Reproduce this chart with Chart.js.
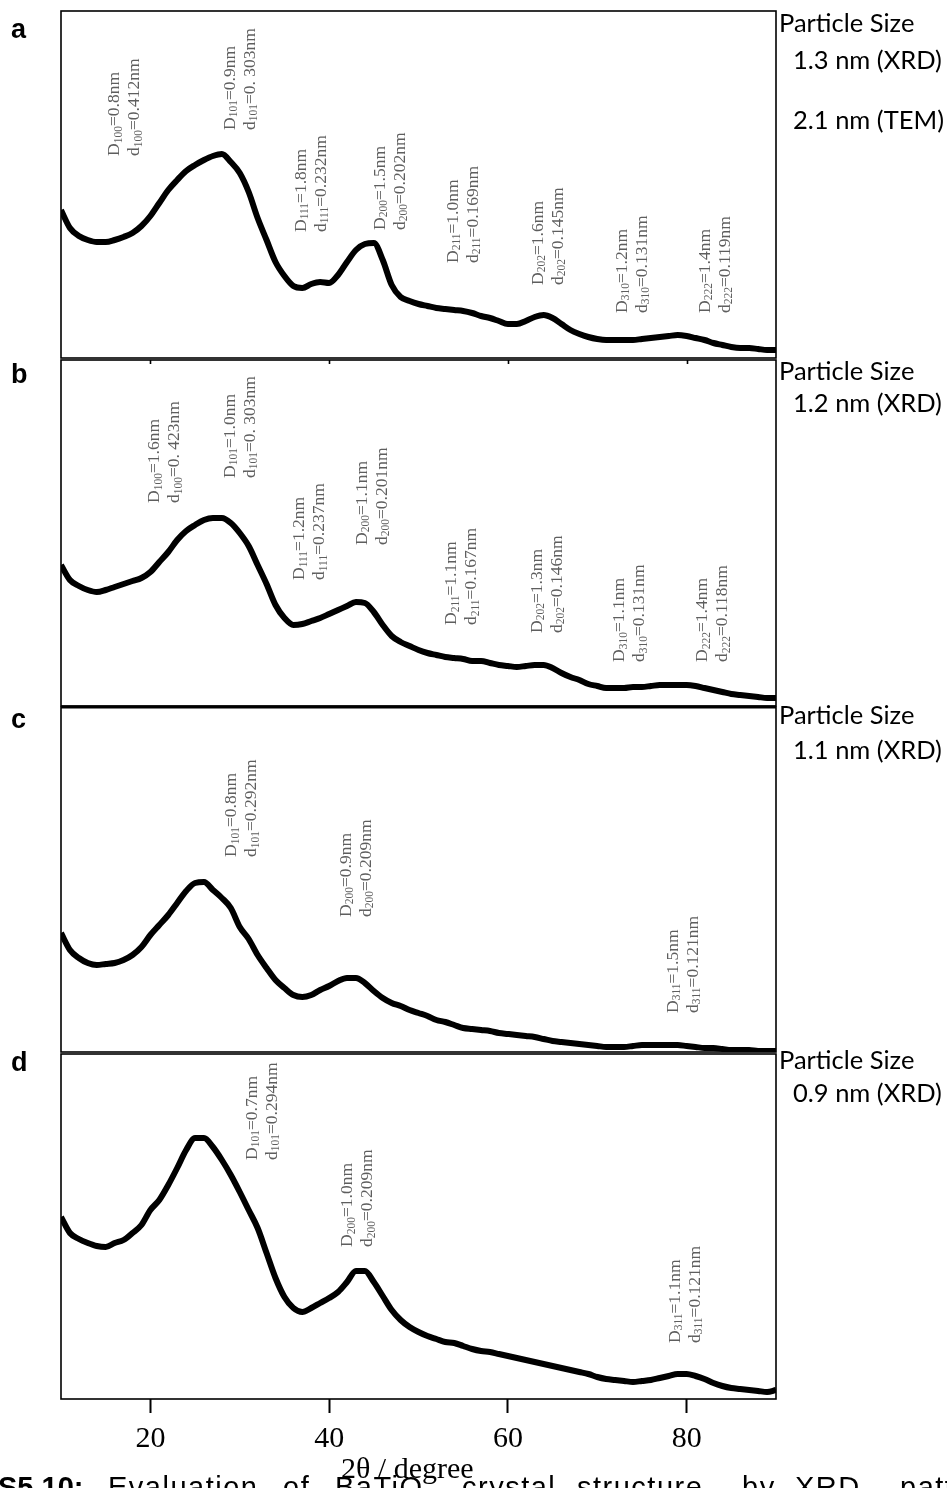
<!DOCTYPE html>
<html>
<head>
<meta charset="utf-8">
<script src="https://cdn.jsdelivr.net/npm/chart.js@4/dist/chart.umd.min.js"></script>
<style>
  html, body { margin: 0; padding: 0; background: #fff; }
  body { position: relative; width: 947px; height: 1488px; overflow: hidden; }
  canvas.panel { position: absolute; left: 0; }
  .letter { position: absolute; left: 11px; font: bold 27px "Liberation Sans", Arial, sans-serif; line-height: 27px; color: #000; }
  .size { position: absolute; font: 25.5px Lato, "Open Sans", sans-serif; line-height: 25.5px; color: #000; white-space: pre; }
  .cap { position: absolute; top: 1473px; font: 29px "Liberation Sans", Arial, sans-serif; line-height: 29px; letter-spacing: 1.5px; color: #000; white-space: pre; }
  .cap.bold { font-weight: bold; letter-spacing: 0; }
</style>
</head>
<body>

<canvas id="panelA" class="panel"></canvas>
<canvas id="panelB" class="panel"></canvas>
<canvas id="panelC" class="panel"></canvas>
<canvas id="panelD" class="panel"></canvas>

<div class="letter" style="top:16px">a</div>
<div class="letter" style="top:361px">b</div>
<div class="letter" style="top:706px">c</div>
<div class="letter" style="top:1049px">d</div>

<div class="size" style="left:779px;top:10px">Particle Size</div>
<div class="size" style="left:793px;top:47px">1.3 nm (XRD)</div>
<div class="size" style="left:793px;top:107px">2.1 nm (TEM)</div>
<div class="size" style="left:779px;top:358px">Particle Size</div>
<div class="size" style="left:793px;top:390px">1.2 nm (XRD)</div>
<div class="size" style="left:779px;top:702px">Particle Size</div>
<div class="size" style="left:793px;top:737px">1.1 nm (XRD)</div>
<div class="size" style="left:779px;top:1047px">Particle Size</div>
<div class="size" style="left:793px;top:1080px">0.9 nm (XRD)</div>

<div class="cap bold" style="left:-2px">S5.10:</div>
<div class="cap" style="left:108px">Evaluation</div>
<div class="cap" style="left:283px">of</div>
<div class="cap" style="left:335px">BaTiO<sub style="font-size:18px">3</sub></div>
<div class="cap" style="left:462px">crystal</div>
<div class="cap" style="left:577px">structure</div>
<div class="cap" style="left:742px">by</div>
<div class="cap" style="left:795px">XRD</div>
<div class="cap" style="left:900px">patterns</div>

<script>
// 2θ positions (degrees) of the sampled diffraction intensities
const twoTheta = [10, 11, 12, 13, 14, 15, 16, 17, 18, 19, 20, 21, 22, 23, 24, 25, 26, 27, 28, 29,
  30, 31, 32, 33, 34, 35, 36, 37, 38, 39, 40, 41, 42, 43, 44, 45, 46, 47, 48, 49,
  50, 51, 52, 53, 54, 55, 56, 57, 58, 59, 60, 61, 62, 63, 64, 65, 66, 67, 68, 69,
  70, 71, 72, 73, 74, 75, 76, 77, 78, 79, 80, 81, 82, 83, 84, 85, 86, 87, 88, 89, 90];

// Intensity (a.u.) for each sample
const intensityA = [148, 130, 122, 118, 116, 116, 118, 121, 125, 132, 142, 155, 168, 178, 187, 193, 198, 202, 204, 196,
  185, 166, 140, 118, 96, 82, 72, 70, 74, 76, 75, 83, 96, 108, 114, 115, 98, 73, 61, 57,
  54, 52, 50, 49, 48, 47, 45, 42, 40, 37, 34, 34, 37, 41, 43, 40, 34, 28, 24, 21,
  19, 18, 18, 18, 18, 19, 20, 21, 22, 23, 22, 20, 18, 15, 13, 11, 10, 10, 9, 8, 8];

const intensityB = [141, 126, 120, 116, 114, 116, 119, 122, 125, 128, 134, 144, 154, 166, 175, 181, 186, 188, 188, 183,
  173, 160, 141, 122, 101, 88, 81, 82, 85, 88, 92, 96, 100, 104, 103, 94, 81, 70, 64, 60,
  56, 53, 51, 49, 48, 47, 45, 45, 43, 41, 40, 39, 40, 41, 41, 38, 33, 29, 26, 22,
  20, 18, 18, 18, 19, 19, 20, 21, 21, 21, 21, 20, 18, 16, 14, 12, 11, 10, 9, 8, 8];

const intensityC = [119, 102, 94, 89, 87, 88, 89, 92, 97, 105, 117, 127, 137, 149, 161, 169, 170, 162, 154, 144,
  125, 113, 97, 84, 72, 64, 57, 55, 57, 62, 66, 71, 74, 74, 69, 61, 54, 49, 46, 42,
  39, 36, 32, 30, 27, 24, 23, 22, 21, 19, 18, 17, 16, 15, 13, 11, 10, 9, 8, 7,
  6, 5, 5, 5, 6, 7, 7, 7, 7, 7, 6, 5, 4, 4, 3, 2, 2, 2, 1, 1, 1];

const intensityD = [182, 166, 160, 156, 153, 152, 156, 159, 166, 174, 189, 199, 214, 231, 249, 261, 261, 252, 239, 224,
  207, 189, 171, 146, 121, 102, 91, 87, 91, 96, 101, 107, 117, 128, 128, 117, 103, 89, 79, 72,
  67, 63, 60, 57, 56, 53, 50, 48, 47, 45, 43, 41, 39, 37, 35, 33, 31, 29, 27, 25,
  22, 20, 19, 18, 17, 18, 19, 21, 23, 25, 25, 23, 20, 16, 13, 11, 10, 9, 8, 7, 9];

// 2θ tick labels on the shared bottom axis
const xTickValues = [20, 40, 60, 80];

// Reflections: Miller indices, crystallite size D (nm), d-spacing (nm)
const peaksA = [
  ['100', '0.8', '0.412'], ['101', '0.9', '0. 303'], ['111', '1.8', '0.232'], ['200', '1.5', '0.202'],
  ['211', '1.0', '0.169'], ['202', '1.6', '0.145'], ['310', '1.2', '0.131'], ['222', '1.4', '0.119']
];
const peaksB = [
  ['100', '1.6', '0. 423'], ['101', '1.0', '0. 303'], ['111', '1.2', '0.237'], ['200', '1.1', '0.201'],
  ['211', '1.1', '0.167'], ['202', '1.3', '0.146'], ['310', '1.1', '0.131'], ['222', '1.4', '0.118']
];
const peaksC = [['101', '0.8', '0.292'], ['200', '0.9', '0.209'], ['311', '1.5', '0.121']];
const peaksD = [['101', '0.7', '0.294'], ['200', '1.0', '0.209'], ['311', '1.1', '0.121']];

// Where each reflection note starts, as [2θ, intensity] in the panel's own axes
const noteAnchorsA = [[16.0, 202], [28.9, 228], [36.9, 126], [45.7, 128], [53.9, 95], [63.4, 73], [72.8, 45], [82.1, 45]];
const noteAnchorsB = [[20.5, 203], [28.9, 228], [36.7, 126], [43.7, 161], [53.7, 81], [63.3, 73], [72.5, 44], [81.8, 44]];
const noteAnchorsC = [[29.1, 195], [41.9, 135], [78.5, 39]];
const noteAnchorsD = [[31.4, 239], [42.1, 152], [78.7, 56]];

const SERIF = '"Liberation Serif", "Times New Roman", serif';

// Box around each plot area, plus optional short inner ticks on the top edge
const framePlugin = {
  id: 'panelFrame',
  afterDatasetsDraw(chart, args, opts) {
    const { ctx, chartArea: a, scales } = chart;
    ctx.save();
    ctx.strokeStyle = '#000';
    ctx.lineWidth = 1.6;
    ctx.strokeRect(a.left, a.top, a.right - a.left, a.bottom - a.top);
    if (opts.topWidth) {
      ctx.lineWidth = opts.topWidth;
      ctx.beginPath();
      ctx.moveTo(a.left, a.top);
      ctx.lineTo(a.right, a.top);
      ctx.stroke();
    }
    if (opts.topTicks) {
      ctx.lineWidth = 1.6;
      ctx.beginPath();
      for (const v of xTickValues) {
        const px = Math.round(scales.x.getPixelForValue(v)) + 0.5;
        ctx.moveTo(px, a.top);
        ctx.lineTo(px, a.top + 4);
      }
      ctx.stroke();
    }
    ctx.restore();
  }
};

// Vertical two-line notes "D_hkl=..nm / d_hkl=..nm" placed at data coordinates
const notePlugin = {
  id: 'peakNotes',
  afterDatasetsDraw(chart, args, opts) {
    const { ctx, scales } = chart;
    const mainFont = '17.5px ' + SERIF;
    const subFont = '11.5px ' + SERIF;
    const drawLine = (parts) => {
      let u = 0;
      for (const [text, sub] of parts) {
        ctx.font = sub ? subFont : mainFont;
        ctx.fillText(text, u, sub ? 4 : 0);
        u += ctx.measureText(text).width;
      }
    };
    ctx.save();
    ctx.fillStyle = '#5e5e5e';
    ctx.textBaseline = 'middle';
    ctx.textAlign = 'left';
    opts.peaks.forEach((p, i) => {
      const [hkl, size, spacing] = p;
      const [tx, ty] = opts.anchors[i];
      const px = scales.x.getPixelForValue(tx);
      const py = scales.y.getPixelForValue(ty);
      ctx.save();
      ctx.translate(px, py);
      ctx.rotate(-Math.PI / 2);
      drawLine([['D', false], [hkl, true], ['=' + size + 'nm', false]]);
      ctx.translate(0, 20);
      drawLine([['d', false], [hkl, true], ['=' + spacing + 'nm', false]]);
      ctx.restore();
    });
    ctx.restore();
  }
};

function makePanel(id, top, plotHeight, values, peaks, anchors, extra) {
  const withAxis = !!extra.axis;
  const pad = 6;
  const axisHeight = 89;
  const canvas = document.getElementById(id);
  const h = withAxis ? pad + plotHeight + axisHeight : plotHeight + 2 * pad;
  canvas.width = 947;
  canvas.height = h;
  canvas.style.top = (top - pad) + 'px';
  canvas.style.width = '947px';
  canvas.style.height = h + 'px';

  const xScale = {
    type: 'linear', min: 10, max: 90, display: withAxis, position: 'bottom',
    afterBuildTicks: (s) => { s.ticks = xTickValues.map(v => ({ value: v })); },
    grid: { drawOnChartArea: false, drawTicks: true, tickLength: 14, tickWidth: 2, tickColor: '#000' },
    border: { display: false },
    ticks: { color: '#000', font: { family: SERIF, size: 30 }, padding: 8, maxRotation: 0, autoSkip: false },
    title: { display: true, text: '2θ / degree   ', color: '#000', font: { family: SERIF, size: 30 }, padding: 0 }
  };
  if (withAxis) xScale.afterFit = (s) => { s.height = axisHeight; };

  return new Chart(canvas, {
    type: 'line',
    data: {
      datasets: [{
        data: twoTheta.map((x, i) => ({ x, y: values[i] })),
        borderColor: '#000',
        borderWidth: 6,
        pointRadius: 0,
        cubicInterpolationMode: 'monotone',
        fill: false
      }]
    },
    options: {
      responsive: false,
      animation: false,
      devicePixelRatio: 1,
      layout: { padding: { left: 61, right: 171, top: pad, bottom: withAxis ? 0 : pad } },
      scales: {
        x: xScale,
        y: { type: 'linear', min: 0, max: plotHeight, display: false }
      },
      plugins: {
        legend: { display: false },
        tooltip: { enabled: false },
        panelFrame: { topTicks: !!extra.topTicks, topWidth: extra.topWidth || 0 },
        peakNotes: { peaks, anchors }
      }
    },
    plugins: [framePlugin, notePlugin]
  });
}

makePanel('panelA', 11, 347, intensityA, peaksA, noteAnchorsA, {});
makePanel('panelB', 360, 346, intensityB, peaksB, noteAnchorsB, { topTicks: true });
makePanel('panelC', 707, 345, intensityC, peaksC, noteAnchorsC, { topWidth: 3 });
makePanel('panelD', 1054, 345, intensityD, peaksD, noteAnchorsD, { axis: true });
</script>
</body>
</html>
